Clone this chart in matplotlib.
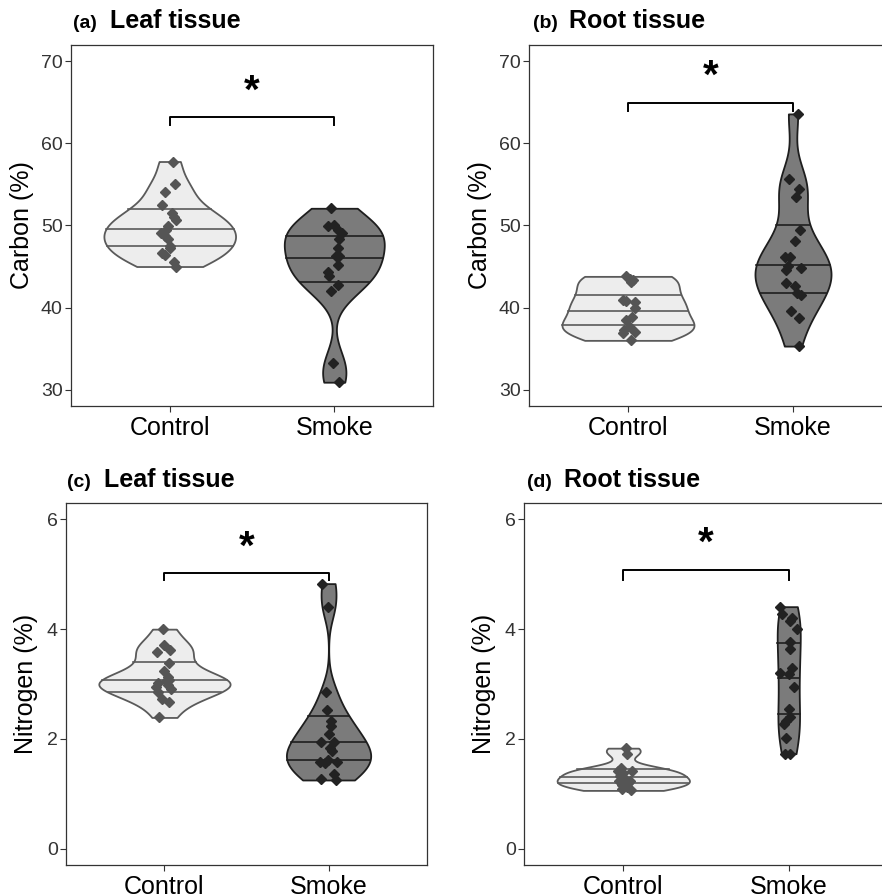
import numpy as np
import matplotlib
matplotlib.use("Agg")
import matplotlib.pyplot as plt

plt.rcParams['font.family'] = ['Liberation Sans', 'DejaVu Sans']

groups = ["Control", "Smoke"]

# panel (a) leaf carbon
leaf_c_control = [57.8, 55.1, 54.1, 52.5, 51.5, 51.0, 50.7, 49.9, 49.5, 49.1,
                  48.7, 48.3, 47.5, 47.3, 46.7, 46.4, 45.5, 45.0]
leaf_c_control_jit = [0.020, 0.034, -0.026, -0.046, 0.014, 0.024, 0.040, -0.010, -0.020, -0.050,
                      -0.026, -0.010, 0.0, 0.004, -0.046, -0.030, 0.024, 0.040]
leaf_c_smoke = [52.1, 49.9, 50.0, 49.5, 49.1, 48.4, 47.2, 46.3, 46.3, 45.2,
                44.3, 43.9, 42.8, 42.0, 33.2, 30.9]
leaf_c_smoke_jit = [-0.020, -0.040, 0.0, 0.020, 0.044, 0.030, 0.020, 0.030, 0.010, 0.020,
                    -0.040, -0.030, 0.020, -0.020, -0.010, 0.030]

# panel (b) root carbon
root_c_control = [43.8, 43.5, 43.3, 43.1, 40.9, 40.8, 40.7, 40.0, 38.8, 38.5,
                  37.6, 37.3, 36.9, 37.0, 36.0]
root_c_control_jit = [-0.014, 0.010, 0.030, 0.020, -0.030, -0.010, 0.040, 0.044, 0.026, -0.010,
                      0.010, -0.024, -0.030, 0.044, 0.016]
root_c_smoke = [63.6, 55.7, 54.5, 53.5, 49.5, 48.1, 46.1, 46.1, 45.1, 44.6,
                44.8, 43.0, 42.6, 41.8, 41.5, 39.6, 38.7, 35.3]
root_c_smoke_jit = [0.030, -0.024, 0.036, 0.016, 0.044, 0.010, -0.050, -0.016, -0.030, -0.044,
                    0.046, -0.040, 0.010, 0.026, 0.046, -0.010, 0.034, 0.036]

# panel (c) leaf nitrogen
leaf_n_control = [4.00, 3.72, 3.59, 3.62, 3.38, 3.24, 3.12, 3.02, 3.06, 3.07,
                  2.95, 2.99, 2.90, 2.85, 2.72, 2.67, 2.39]
leaf_n_control_jit = [-0.010, 0.0, -0.046, 0.036, 0.026, -0.004, 0.020, -0.040, 0.010, 0.030,
                      -0.050, 0.020, 0.040, -0.040, -0.016, 0.030, -0.036]
leaf_n_smoke = [4.83, 4.41, 2.85, 2.52, 2.33, 2.24, 2.09, 1.94, 1.95, 1.83,
                1.78, 1.61, 1.58, 1.56, 1.58, 1.36, 1.26, 1.25]
leaf_n_smoke_jit = [-0.038, -0.004, -0.018, -0.010, 0.012, 0.016, 0.0, -0.044, 0.036, 0.006,
                    0.022, -0.004, -0.054, -0.024, 0.052, 0.032, -0.048, 0.046]

# panel (d) root nitrogen
root_n_control = [1.83, 1.73, 1.47, 1.42, 1.42, 1.38, 1.33, 1.28, 1.24, 1.24,
                  1.20, 1.15, 1.13, 1.09, 1.06]
root_n_control_jit = [0.014, 0.020, -0.016, -0.030, 0.050, 0.0, -0.022, 0.004, -0.026, 0.040,
                      0.030, -0.006, 0.024, -0.006, 0.044]
root_n_smoke = [4.41, 4.28, 4.21, 4.15, 4.00, 3.76, 3.64, 3.30, 3.20, 3.18,
                2.94, 2.55, 2.39, 2.33, 2.27, 2.02, 1.73, 1.73]
root_n_smoke_jit = [-0.050, -0.040, 0.020, 0.010, 0.050, 0.010, 0.010, 0.020, -0.050, 0.0,
                    0.030, 0.0, 0.010, -0.014, -0.030, -0.014, -0.024, 0.010]

fills = ['#ededed', '#7b7b7b']
edges = ['#5a5a5a', '#1e1e1e']
point_cols = ['#555555', '#222222']


def nrd0(x):
    x = np.asarray(x)
    hi = np.std(x, ddof=1)
    iqr = np.subtract(*np.percentile(x, [75, 25]))
    lo = min(hi, iqr / 1.34) if iqr > 0 else hi
    return 0.9 * lo * len(x) ** -0.2


def kde(x):
    x = np.asarray(x)
    bw = nrd0(x)
    ys = np.linspace(x.min(), x.max(), 512)
    d = np.exp(-0.5 * ((ys[:, None] - x[None, :]) / bw) ** 2).sum(axis=1)
    d /= len(x) * bw * np.sqrt(2 * np.pi)
    return ys, d


def violin_panel(ax, data, jits):
    dens = [kde(v) for v in data]
    dmax = max(d.max() for _, d in dens)
    for i, ((ys, d), vals, jit) in enumerate(zip(dens, data, jits)):
        pos = i + 1
        w = d / dmax * 0.4
        ax.fill_betweenx(ys, pos - w, pos + w, facecolor=fills[i],
                         edgecolor=edges[i], linewidth=1.3, zorder=2)
        cdf = np.cumsum(d) / d.sum()
        for q in (0.25, 0.5, 0.75):
            yq = np.interp(q, cdf, ys)
            wq = np.interp(yq, ys, w)
            ax.plot([pos - wq, pos + wq], [yq, yq], color=edges[i], lw=1.2, zorder=3)
        ax.plot(pos + np.array(jit), vals, linestyle='none', marker='D', ms=5.5,
                color=point_cols[i], zorder=4)


def style(ax, ylim, yticks, ylabel, ylab_x, fig):
    ax.set_xlim(0.4, 2.6)
    ax.set_ylim(*ylim)
    ax.set_yticks(yticks)
    ax.set_xticks([1, 2])
    ax.set_xticklabels(groups)
    ax.tick_params(axis='y', labelsize=14, colors='#333333', length=4, width=0.8, pad=2)
    ax.tick_params(axis='x', labelsize=18, colors='#333333', length=4, width=0.8, pad=3)
    for lab in ax.get_xticklabels():
        lab.set_color('black')
    for s in ax.spines.values():
        s.set_color('#333333')
        s.set_linewidth(0.9)
    bb = ax.get_position()
    fig.text(ylab_x, bb.y0 + bb.height / 2, ylabel, rotation=90, fontsize=18,
             ha='center', va='center')


def bracket(ax, y_top, y_low, y_star):
    ax.plot([1, 1, 2, 2], [y_low, y_top, y_top, y_low], color='black', lw=1.4, zorder=5)
    ax.text(1.5, y_star, '*', fontsize=29, fontweight='bold', ha='center', va='baseline')


W, H = 882, 896
fig = plt.figure(figsize=(W / 100, H / 100), dpi=100)


def px_axes(l, t, r, b):
    return fig.add_axes([l / W, 1 - b / H, (r - l) / W, (b - t) / H])


def title(x1, x2, yb, tag, name):
    fig.text(x1 / W, 1 - yb / H, tag, fontsize=14, fontweight='bold', va='baseline')
    fig.text(x2 / W, 1 - yb / H, name, fontsize=18, fontweight='bold', va='baseline')


ax_a = px_axes(71, 45, 433, 406)
violin_panel(ax_a, [leaf_c_control, leaf_c_smoke], [leaf_c_control_jit, leaf_c_smoke_jit])
style(ax_a, (28, 72), [30, 40, 50, 60, 70], 'Carbon (%)', 21.5 / W, fig)
bracket(ax_a, 63.2, 62.2, 64.9)
title(73, 110, 28.5, '(a)', 'Leaf tissue')

ax_b = px_axes(529, 45, 892, 406)
violin_panel(ax_b, [root_c_control, root_c_smoke], [root_c_control_jit, root_c_smoke_jit])
style(ax_b, (28, 72), [30, 40, 50, 60, 70], 'Carbon (%)', 480 / W, fig)
bracket(ax_b, 64.9, 64.0, 66.8)
title(533, 569, 28.5, '(b)', 'Root tissue')

ax_c = px_axes(66, 503, 427, 865)
violin_panel(ax_c, [leaf_n_control, leaf_n_smoke], [leaf_n_control_jit, leaf_n_smoke_jit])
style(ax_c, (-0.3, 6.3), [0, 2, 4, 6], 'Nitrogen (%)', 26 / W, fig)
bracket(ax_c, 5.02, 4.89, 5.29)
title(67, 104, 487, '(c)', 'Leaf tissue')

ax_d = px_axes(524, 503, 888, 865)
violin_panel(ax_d, [root_n_control, root_n_smoke], [root_n_control_jit, root_n_smoke_jit])
style(ax_d, (-0.3, 6.3), [0, 2, 4, 6], 'Nitrogen (%)', 484 / W, fig)
bracket(ax_d, 5.07, 4.90, 5.36)
title(527, 564, 487, '(d)', 'Root tissue')

fig.savefig('out.png', dpi=100)
